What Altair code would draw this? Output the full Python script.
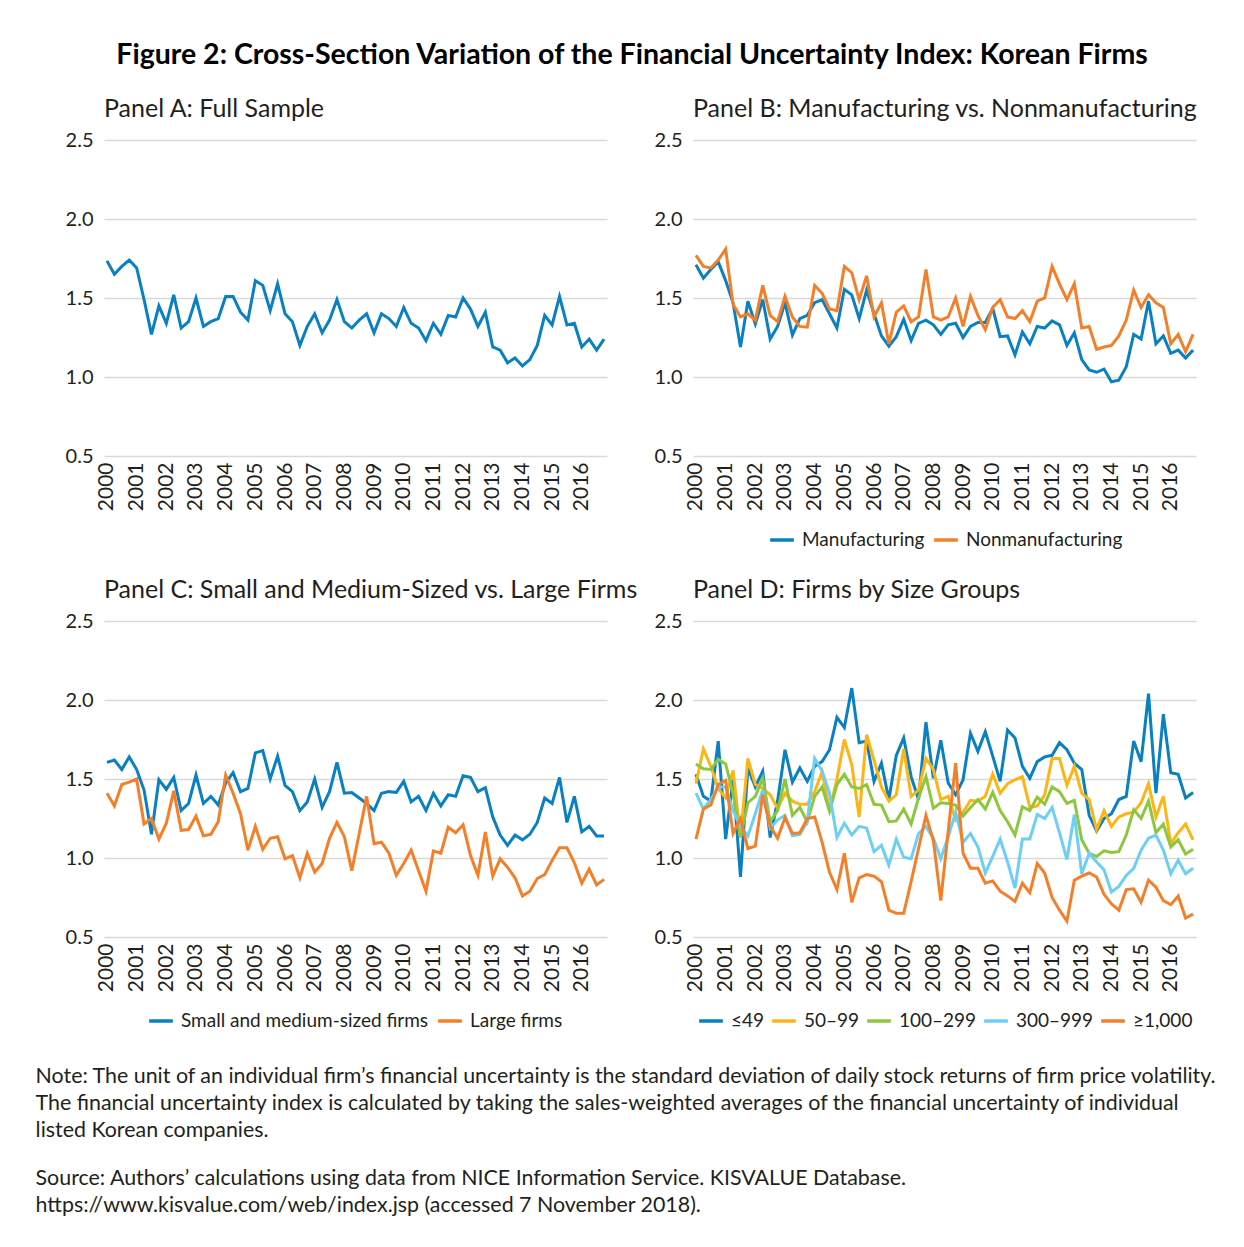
import altair as alt
import pandas as pd

# ---------------- data (quarterly, 2000Q1 - 2016Q4) ----------------
year_ticks = list(range(2000, 2017))
y_ticks = [0.5, 1.0, 1.5, 2.0, 2.5]

full_sample = [1.735, 1.65, 1.70, 1.74, 1.69, 1.49, 1.27, 1.45, 1.34, 1.52,
               1.31, 1.35, 1.50, 1.32, 1.35, 1.37, 1.51, 1.51, 1.41, 1.36,
               1.61, 1.58, 1.42, 1.59, 1.40, 1.35, 1.20, 1.32, 1.40, 1.28,
               1.36, 1.49, 1.35, 1.31, 1.36, 1.40, 1.28, 1.40, 1.37, 1.32,
               1.44, 1.34, 1.31, 1.23, 1.34, 1.27, 1.39, 1.38, 1.50, 1.43,
               1.32, 1.41, 1.19, 1.17, 1.09, 1.12, 1.07, 1.11, 1.20, 1.39,
               1.33, 1.51, 1.33, 1.34, 1.19, 1.24, 1.17, 1.24]

manufacturing = [1.71, 1.625, 1.68, 1.73, 1.61, 1.47, 1.19, 1.48, 1.335, 1.49,
                 1.24, 1.32, 1.47, 1.265, 1.37, 1.39, 1.47, 1.49, 1.40, 1.31,
                 1.555, 1.52, 1.37, 1.55, 1.40, 1.26, 1.195, 1.255, 1.365, 1.23,
                 1.34, 1.36, 1.33, 1.27, 1.33, 1.34, 1.25, 1.32, 1.345, 1.345,
                 1.435, 1.255, 1.26, 1.14, 1.285, 1.21, 1.32, 1.31, 1.355, 1.33,
                 1.20, 1.28, 1.11, 1.045, 1.03, 1.05, 0.97, 0.98, 1.065, 1.27,
                 1.24, 1.48, 1.21, 1.26, 1.15, 1.17, 1.12, 1.17]

nonmanufacturing = [1.77, 1.70, 1.69, 1.74, 1.81, 1.46, 1.38, 1.40, 1.36, 1.58,
                    1.39, 1.35, 1.51, 1.38, 1.32, 1.315, 1.58, 1.53, 1.43, 1.42,
                    1.70, 1.66, 1.49, 1.64, 1.38, 1.47, 1.21, 1.41, 1.45, 1.35,
                    1.38, 1.68, 1.38, 1.36, 1.38, 1.50, 1.32, 1.51, 1.39, 1.30,
                    1.44, 1.49, 1.38, 1.37, 1.42, 1.35, 1.48, 1.50, 1.70, 1.59,
                    1.49, 1.59, 1.31, 1.32, 1.175, 1.19, 1.20, 1.26, 1.36, 1.55,
                    1.44, 1.52, 1.47, 1.44, 1.21, 1.27, 1.16, 1.27]

sme_firms = [1.605, 1.62, 1.56, 1.64, 1.56, 1.43, 1.15, 1.495, 1.435, 1.51,
             1.30, 1.345, 1.525, 1.345, 1.39, 1.335, 1.475, 1.54, 1.42, 1.44,
             1.665, 1.68, 1.50, 1.645, 1.46, 1.42, 1.30, 1.355, 1.50, 1.32,
             1.42, 1.605, 1.41, 1.415, 1.38, 1.345, 1.30, 1.41, 1.42, 1.415,
             1.485, 1.355, 1.39, 1.30, 1.41, 1.33, 1.40, 1.39, 1.52, 1.51,
             1.42, 1.445, 1.26, 1.145, 1.08, 1.145, 1.115, 1.15, 1.225, 1.38,
             1.345, 1.51, 1.225, 1.39, 1.165, 1.20, 1.14, 1.14]

large_firms = [1.41, 1.33, 1.465, 1.48, 1.50, 1.215, 1.25, 1.12, 1.22, 1.425,
               1.175, 1.18, 1.265, 1.14, 1.15, 1.23, 1.525, 1.41, 1.28, 1.05,
               1.20, 1.055, 1.125, 1.135, 0.995, 1.015, 0.875, 1.03, 0.91, 0.965,
               1.125, 1.225, 1.135, 0.92, 1.155, 1.39, 1.09, 1.10, 1.03, 0.89,
               0.965, 1.05, 0.92, 0.79, 1.045, 1.03, 1.195, 1.16, 1.21, 1.015,
               0.89, 1.165, 0.885, 0.995, 0.94, 0.875, 0.76, 0.79, 0.87, 0.895,
               0.985, 1.065, 1.065, 0.97, 0.84, 0.93, 0.83, 0.865]

size_le49 = [1.53, 1.39, 1.36, 1.74, 1.12, 1.495, 0.88, 1.57, 1.45, 1.55,
             1.13, 1.36, 1.685, 1.48, 1.57, 1.485, 1.58, 1.61, 1.685, 1.89,
             1.825, 2.075, 1.73, 1.74, 1.485, 1.60, 1.37, 1.65, 1.76, 1.515,
             1.37, 1.86, 1.505, 1.745, 1.475, 1.40, 1.495, 1.79, 1.675, 1.80,
             1.645, 1.485, 1.81, 1.76, 1.58, 1.505, 1.61, 1.64, 1.65, 1.73,
             1.685, 1.60, 1.56, 1.27, 1.17, 1.25, 1.28, 1.37, 1.39, 1.74,
             1.61, 2.04, 1.41, 1.91, 1.54, 1.53, 1.38, 1.415]

size_50_99 = [1.47, 1.69, 1.58, 1.44, 1.38, 1.555, 1.135, 1.63, 1.465, 1.44,
              1.40, 1.315, 1.41, 1.36, 1.34, 1.34, 1.42, 1.545, 1.30, 1.50,
              1.75, 1.59, 1.26, 1.78, 1.62, 1.45, 1.36, 1.40, 1.69, 1.39,
              1.43, 1.63, 1.56, 1.37, 1.39, 1.24, 1.29, 1.365, 1.36, 1.39,
              1.53, 1.41, 1.47, 1.495, 1.515, 1.32, 1.33, 1.40, 1.63, 1.63,
              1.46, 1.58, 1.41, 1.37, 1.18, 1.30, 1.20, 1.26, 1.28, 1.29,
              1.35, 1.47, 1.26, 1.39, 1.09, 1.16, 1.215, 1.115]

size_100_299 = [1.595, 1.565, 1.56, 1.625, 1.595, 1.41, 1.13, 1.35, 1.39, 1.505,
                1.23, 1.30, 1.50, 1.27, 1.32, 1.23, 1.39, 1.45, 1.295, 1.465,
                1.53, 1.45, 1.44, 1.465, 1.34, 1.335, 1.23, 1.235, 1.31, 1.215,
                1.38, 1.515, 1.315, 1.35, 1.345, 1.335, 1.265, 1.32, 1.37, 1.31,
                1.415, 1.30, 1.23, 1.145, 1.325, 1.30, 1.385, 1.34, 1.45, 1.42,
                1.345, 1.365, 1.115, 1.03, 1.01, 1.045, 1.035, 1.04, 1.145, 1.305,
                1.25, 1.36, 1.16, 1.215, 1.07, 1.115, 1.025, 1.055]

size_300_999 = [1.41, 1.31, 1.37, 1.45, 1.45, 1.30, 1.20, 1.14, 1.28, 1.43,
                1.19, 1.24, 1.27, 1.14, 1.15, 1.23, 1.63, 1.55, 1.41, 1.13,
                1.22, 1.145, 1.20, 1.19, 1.04, 1.08, 0.955, 1.12, 1.005, 0.995,
                1.155, 1.20, 1.125, 0.995, 1.135, 1.29, 1.10, 1.155, 1.07, 0.905,
                1.01, 1.12, 0.975, 0.81, 1.12, 1.12, 1.275, 1.25, 1.32, 1.16,
                0.99, 1.275, 0.90, 1.03, 0.975, 0.925, 0.785, 0.82, 0.89, 0.935,
                1.05, 1.125, 1.145, 1.05, 0.90, 0.985, 0.90, 0.935]

size_ge1000 = [1.12, 1.31, 1.335, 1.465, 1.49, 1.155, 1.25, 1.06, 1.075, 1.40,
               1.20, 1.125, 1.255, 1.155, 1.16, 1.25, 1.26, 1.10, 0.91, 0.80,
               1.03, 0.72, 0.875, 0.895, 0.885, 0.85, 0.67, 0.65, 0.65, 0.85,
               1.06, 1.27, 1.11, 0.73, 1.17, 1.60, 1.03, 0.935, 0.935, 0.84,
               0.855, 0.79, 0.76, 0.725, 0.84, 0.78, 0.965, 0.905, 0.75, 0.67,
               0.60, 0.86, 0.885, 0.905, 0.88, 0.77, 0.71, 0.67, 0.80, 0.805,
               0.72, 0.86, 0.815, 0.73, 0.705, 0.76, 0.62, 0.645]

quarters = [2000 + i * 0.25 for i in range(len(full_sample))]

BLUE = "#0880C2"
ORANGE = "#F47F28"
YELLOW = "#FDB515"
GREEN = "#8DC63F"
LIGHTBLUE = "#6DCFF6"
TEXT = "#231F20"
FONT = "Lato"


def long_df(series):
    rows = []
    for name, vals in series:
        for t, v in zip(quarters, vals):
            rows.append({"t": t, "v": v, "series": name})
    return pd.DataFrame(rows)


x_enc = alt.X(
    "t:Q",
    scale=alt.Scale(domain=[1999.9, 2016.85], nice=False, zero=False),
    axis=alt.Axis(values=year_ticks, format="d", labelAngle=270, grid=False,
                  ticks=False, domain=False, labelPadding=6, title=None,
                  labelFontSize=21, labelColor=TEXT, labelFont=FONT),
)
y_enc = alt.Y(
    "v:Q",
    scale=alt.Scale(domain=[0.5, 2.5], nice=False, zero=False),
    axis=alt.Axis(values=y_ticks, format=".1f", grid=True, gridColor="#D9D9D9",
                  gridWidth=1.5, ticks=False, domain=False, labelPadding=11,
                  title=None, labelFontSize=20, labelColor=TEXT, labelFont=FONT),
)


def panel_title(text):
    return alt.TitleParams(text, anchor="start", frame="group", fontSize=25,
                           fontWeight="normal", font=FONT, color=TEXT, offset=8)


def legend(x_pos, col_pad=2):
    return alt.Legend(title=None, orient="none", legendX=x_pos, legendY=386,
                      direction="horizontal",
                      symbolType="stroke", symbolStrokeWidth=3.5, symbolSize=560,
                      labelFontSize=19, labelFont=FONT, labelColor=TEXT,
                      labelLimit=400, columnPadding=col_pad, labelOffset=6)


W, H = 503, 316

panel_a = alt.Chart(long_df([("Full sample", full_sample)])).mark_line(
    strokeWidth=3, color=BLUE
).encode(x=x_enc, y=y_enc).properties(
    width=W, height=H, title=panel_title("Panel A: Full Sample"))

b_names = ["Manufacturing", "Nonmanufacturing"]
panel_b = alt.Chart(long_df([(b_names[0], manufacturing),
                             (b_names[1], nonmanufacturing)])).mark_line(
    strokeWidth=3
).encode(
    x=x_enc, y=y_enc,
    color=alt.Color("series:N", scale=alt.Scale(domain=b_names, range=[BLUE, ORANGE]),
                    legend=legend(75)),
).properties(width=W, height=H,
             title=panel_title("Panel B: Manufacturing vs. Nonmanufacturing"))

c_names = ["Small and medium-sized firms", "Large firms"]
panel_c = alt.Chart(long_df([(c_names[0], sme_firms),
                             (c_names[1], large_firms)])).mark_line(
    strokeWidth=3
).encode(
    x=x_enc, y=y_enc,
    color=alt.Color("series:N", scale=alt.Scale(domain=c_names, range=[BLUE, ORANGE]),
                    legend=legend(43)),
).properties(width=W, height=H,
             title=panel_title("Panel C: Small and Medium-Sized vs. Large Firms"))

d_names = ["≤49", "50–99", "100–299", "300–999", "≥1,000"]
panel_d = alt.Chart(long_df([(d_names[0], size_le49), (d_names[1], size_50_99),
                             (d_names[2], size_100_299), (d_names[3], size_300_999),
                             (d_names[4], size_ge1000)])).mark_line(
    strokeWidth=3
).encode(
    x=x_enc, y=y_enc,
    color=alt.Color("series:N",
                    scale=alt.Scale(domain=d_names,
                                    range=[BLUE, YELLOW, GREEN, LIGHTBLUE, ORANGE]),
                    legend=legend(4, col_pad=0)),
).properties(width=W, height=H, title=panel_title("Panel D: Firms by Size Groups"))

grid = alt.concat(panel_a, panel_b, panel_c, panel_d, columns=2,
                  spacing={"row": 165, "column": 86}, bounds="flush").resolve_scale(
    color="independent").resolve_legend(color="independent").properties(
    title=alt.TitleParams(
        "Figure 2: Cross-Section Variation of the Financial Uncertainty Index: Korean Firms",
        anchor="middle", fontSize=28.5, fontWeight="bold", font=FONT, color="#000000",
        offset=27))

note_lines = [
    "Note: The unit of an individual firm’s financial uncertainty is the standard deviation of daily stock returns of firm price volatility.",
    "The financial uncertainty index is calculated by taking the sales-weighted averages of the financial uncertainty of individual",
    "listed Korean companies.",
]
source_lines = [
    "Source: Authors’ calculations using data from NICE Information Service. KISVALUE Database.",
    "https://www.kisvalue.com/web/index.jsp (accessed 7 November 2018).",
]

chart = alt.vconcat(grid).properties(
    title=alt.TitleParams(note_lines, subtitle=source_lines, orient="bottom",
                          anchor="start", frame="bounds",
                          fontSize=21.4, fontWeight="normal", font=FONT, color=TEXT,
                          lineHeight=27, subtitleFontSize=21.4, subtitleFont=FONT,
                          subtitleColor=TEXT, subtitleLineHeight=27,
                          subtitlePadding=27, dx=-29, offset=34),
    padding={"left": 27, "top": 33, "right": 10, "bottom": 20},
).configure(font=FONT).configure_view(stroke="transparent")

chart.save("out.html", embed_options={"renderer": "svg", "actions": False})
